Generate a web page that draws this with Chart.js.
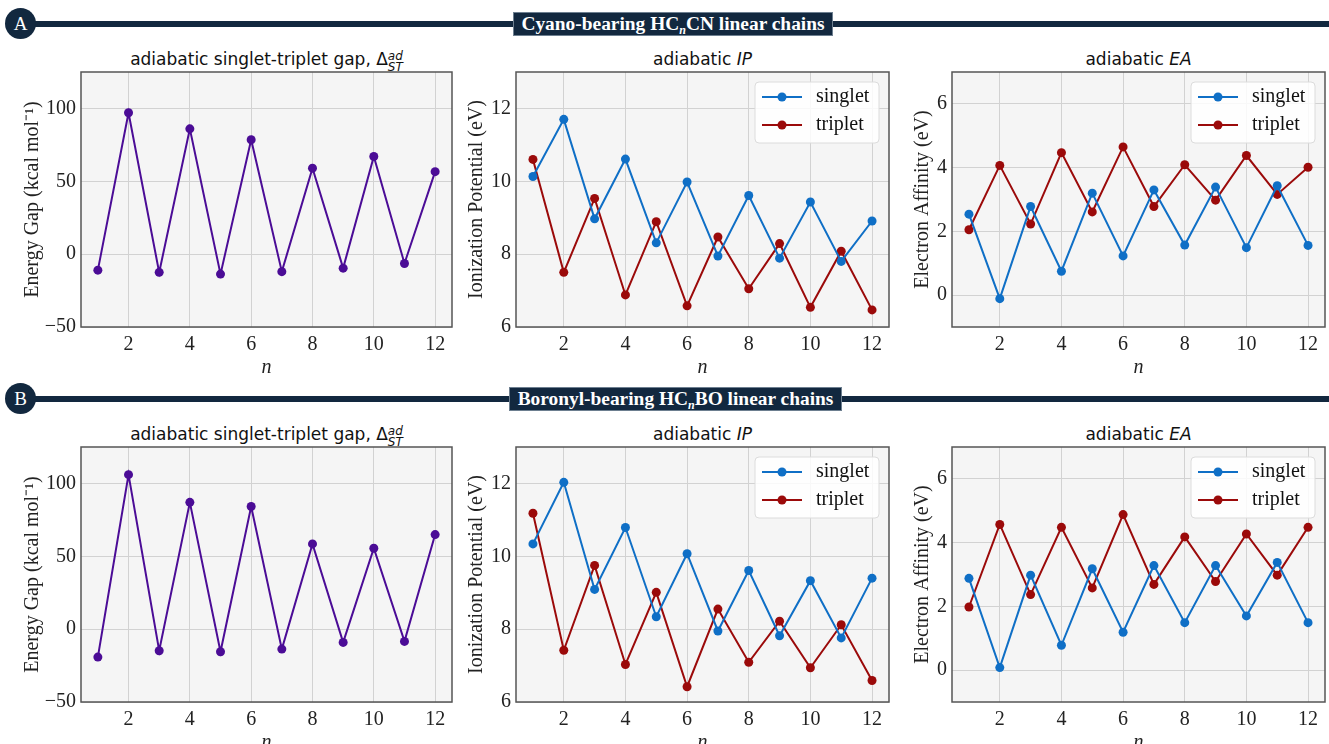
<!DOCTYPE html>
<html>
<head>
<meta charset="utf-8">
<script src="https://cdn.jsdelivr.net/npm/chart.js@4.4.1/dist/chart.umd.min.js"></script>
<style>
  body { margin: 0; background: #fff; width: 1329px; height: 744px; overflow: hidden; position: relative; }
  .line { position: absolute; left: 20px; width: 1309px; height: 6px; background: #12283f; }
  .circ { position: absolute; left: 5px; width: 31px; height: 31px; border-radius: 50%; background: #12283f;
          color: #fff; font-family: "Liberation Serif", serif; font-size: 19px; line-height: 31px; text-align: center; }
  .box { position: absolute; height: 24px; background: #12283f; border: 1px solid #6d7f90; box-sizing: border-box;
         color: #fff; font-family: "Liberation Serif", serif; font-weight: bold; font-size: 19.4px; line-height: 22px;
         text-align: center; white-space: nowrap; }
  .box i { font-weight: bold; font-size: 12px; position: relative; top: 4px; }
  .ptitle { position: absolute; font-family: "DejaVu Sans", sans-serif; font-size: 17px; color: #111;
            text-align: center; white-space: nowrap; }
  .ptitle i { font-style: italic; }
  .ss { display: inline-block; vertical-align: -6px; line-height: 11px; font-size: 12px; font-style: italic; text-align: left; }
  .panel { position: absolute; }
</style>
</head>
<body>

<div class="line" style="top:21px"></div>
<div class="circ" style="top:8px">A</div>
<div class="box" style="left:513px; top:12px; width:320px">Cyano-bearing HC<i>n</i>CN linear chains</div>

<div class="line" style="top:396px"></div>
<div class="circ" style="top:383px">B</div>
<div class="box" style="left:509px; top:387px; width:333px">Boronyl-bearing HC<i>n</i>BO linear chains</div>

<div class="ptitle" style="left:81px; width:371px; top:49px">adiabatic singlet-triplet gap, &Delta;<span class="ss">ad<br>ST</span></div>
<div class="ptitle" style="left:516px; width:373px; top:49px">adiabatic <i>IP</i></div>
<div class="ptitle" style="left:952px; width:373px; top:49px">adiabatic <i>EA</i></div>

<div class="ptitle" style="left:81px; width:371px; top:424px">adiabatic singlet-triplet gap, &Delta;<span class="ss">ad<br>ST</span></div>
<div class="ptitle" style="left:516px; width:373px; top:424px">adiabatic <i>IP</i></div>
<div class="ptitle" style="left:952px; width:373px; top:424px">adiabatic <i>EA</i></div>

<canvas id="cyanoGap" class="panel"></canvas>
<canvas id="cyanoIp" class="panel"></canvas>
<canvas id="cyanoEa" class="panel"></canvas>
<canvas id="boronylGap" class="panel"></canvas>
<canvas id="boronylIp" class="panel"></canvas>
<canvas id="boronylEa" class="panel"></canvas>

<script>
// data
const nValues = [1, 2, 3, 4, 5, 6, 7, 8, 9, 10, 11, 12];
const xTicks = [2, 4, 6, 8, 10, 12];
const gapTicks = [-50, 0, 50, 100];
const ipTicks = [6, 8, 10, 12];
const eaTicks = [0, 2, 4, 6];

const cyanoGap = [-11, 97, -12.5, 86, -13.7, 78.5, -12, 59, -9.6, 67, -6.4, 56.6];
const cyanoIpSinglet = [10.13, 11.70, 8.97, 10.61, 8.31, 9.98, 7.95, 9.61, 7.89, 9.43, 7.80, 8.91];
const cyanoIpTriplet = [10.60, 7.50, 9.53, 6.88, 8.89, 6.58, 8.47, 7.05, 8.29, 6.54, 8.08, 6.47];
const cyanoEaSinglet = [2.54, -0.11, 2.78, 0.75, 3.20, 1.23, 3.30, 1.57, 3.39, 1.49, 3.43, 1.56];
const cyanoEaTriplet = [2.05, 4.07, 2.23, 4.47, 2.61, 4.65, 2.78, 4.09, 2.98, 4.38, 3.16, 4.01];

const boronylGap = [-19.2, 106, -14.8, 87, -15.5, 84.2, -13.7, 58.5, -9.1, 55.5, -8.4, 64.9];
const boronylIpSinglet = [10.34, 12.03, 9.09, 10.79, 8.34, 10.07, 7.95, 9.61, 7.82, 9.33, 7.76, 9.40];
const boronylIpTriplet = [11.18, 7.42, 9.75, 7.03, 9.01, 6.42, 8.55, 7.09, 8.22, 6.94, 8.12, 6.59];
const boronylEaSinglet = [2.88, 0.08, 2.98, 0.78, 3.18, 1.19, 3.28, 1.49, 3.28, 1.70, 3.38, 1.49];
const boronylEaTriplet = [1.98, 4.57, 2.37, 4.48, 2.58, 4.88, 2.69, 4.18, 2.78, 4.27, 2.98, 4.48];

const purple = "#4b0c96";
const blue = "#0f6fc6";
const red = "#9b0a0a";
const serif = "'Liberation Serif', serif";

// plot background + frame
const axesBox = {
  id: "axesBox",
  beforeDraw(chart) {
    const { ctx, chartArea: a } = chart;
    ctx.save();
    ctx.fillStyle = "#f5f5f5";
    ctx.fillRect(a.left, a.top, a.width, a.height);
    ctx.restore();
  },
  afterDatasetsDraw(chart) {
    const { ctx, chartArea: a } = chart;
    ctx.save();
    ctx.strokeStyle = "#555";
    ctx.lineWidth = 1.5;
    ctx.strokeRect(a.left, a.top, a.width, a.height);
    ctx.restore();
  },
};

// legend drawn inside the axes, upper right
const innerLegend = {
  id: "innerLegend",
  afterDraw(chart, args, opts) {
    if (!opts.show) return;
    const { ctx, chartArea: a } = chart;
    const w = 124, h = 61;
    const x = a.right - 10 - w;
    const y = a.top + 10;
    ctx.save();
    ctx.beginPath();
    ctx.roundRect(x, y, w, h, 4);
    ctx.fillStyle = "rgba(255,255,255,0.85)";
    ctx.fill();
    ctx.strokeStyle = "#dcdcdc";
    ctx.lineWidth = 1;
    ctx.stroke();
    chart.data.datasets.forEach((ds, i) => {
      const cy = y + 15 + i * 28;
      ctx.strokeStyle = ds.borderColor;
      ctx.lineWidth = 2;
      ctx.beginPath();
      ctx.moveTo(x + 7, cy);
      ctx.lineTo(x + 47, cy);
      ctx.stroke();
      ctx.fillStyle = ds.borderColor;
      ctx.beginPath();
      ctx.arc(x + 27, cy, 4.5, 0, Math.PI * 2);
      ctx.fill();
      ctx.fillStyle = "#111";
      ctx.font = "20px " + serif;
      ctx.textBaseline = "middle";
      ctx.fillText(ds.label, x + 61, cy);
    });
    ctx.restore();
  },
};

function series(label, values, color) {
  return {
    label: label,
    data: nValues.map((n, i) => ({ x: n, y: values[i] })),
    borderColor: color,
    backgroundColor: color,
    borderWidth: 2,
    pointRadius: 4.5,
    pointHoverRadius: 4.5,
    pointBorderWidth: 0,
    tension: 0,
  };
}

// top label overflow that chart.js keeps free above the plot
const topGap = 17;
const xAxisH = 53;

function makeChart(id, box, datasets, yTitle, yMin, yMax, yTicks, titlePad, legend) {
  const canvas = document.getElementById(id);
  canvas.width = box.w;
  canvas.height = box.h;
  canvas.style.left = box.x + "px";
  canvas.style.top = box.y + "px";

  return new Chart(canvas, {
    type: "line",
    data: { datasets: datasets },
    options: {
      responsive: false,
      animation: false,
      events: [],
      layout: { padding: { top: 0, right: 8, left: 0, bottom: 0 } },
      plugins: {
        legend: { display: false },
        tooltip: { enabled: false },
        innerLegend: { show: legend },
      },
      scales: {
        x: {
          type: "linear",
          min: 0.45,
          max: 12.55,
          afterBuildTicks: (s) => { s.ticks = xTicks.map((v) => ({ value: v })); },
          afterFit: (s) => { s.height = xAxisH; },
          grid: { color: "#d2d2d2", lineWidth: 1, drawTicks: false },
          border: { display: false },
          ticks: { color: "#222", padding: 6, font: { family: serif, size: 20 } },
          title: { display: true, text: "n", color: "#222", padding: 0,
                   font: { family: serif, size: 20, style: "italic" } },
        },
        y: {
          min: yMin,
          max: yMax,
          afterBuildTicks: (s) => { s.ticks = yTicks.map((v) => ({ value: v })); },
          afterFit: (s) => { s.width = 80; },
          grid: { color: "#d2d2d2", lineWidth: 1, drawTicks: false },
          border: { display: false },
          ticks: { color: "#222", padding: 5, font: { family: serif, size: 20 },
                   callback: (v) => (v < 0 ? "\u2212" + Math.abs(v) : v) },
          title: { display: true, text: yTitle, color: "#222", padding: { top: titlePad, bottom: 0 },
                   font: { family: serif, size: 20 } },
        },
      },
    },
    plugins: [axesBox, innerLegend],
  });
}

const colX = [1, 436, 872];
const colW = [459, 461, 461];
const plotTop = [72, 447];
const plotH = 255;
const panelH = topGap + plotH + xAxisH;

const gapTitle = "Energy Gap (kcal mol\u207B\u00B9)";
const ipTitle = "Ionization Potential (eV)";
const eaTitle = "Electron Affinity (eV)";

const rowY = plotTop.map((t) => t - topGap);

makeChart("cyanoGap", { x: colX[0], y: rowY[0], w: colW[0], h: panelH },
  [series("gap", cyanoGap, purple)], gapTitle, -50, 125, gapTicks, 20, false);
makeChart("cyanoIp", { x: colX[1], y: rowY[0], w: colW[1], h: panelH },
  [series("singlet", cyanoIpSinglet, blue), series("triplet", cyanoIpTriplet, red)],
  ipTitle, 6, 13, ipTicks, 29, true);
makeChart("cyanoEa", { x: colX[2], y: rowY[0], w: colW[2], h: panelH },
  [series("singlet", cyanoEaSinglet, blue), series("triplet", cyanoEaTriplet, red)],
  eaTitle, -1, 7, eaTicks, 39, true);

makeChart("boronylGap", { x: colX[0], y: rowY[1], w: colW[0], h: panelH },
  [series("gap", boronylGap, purple)], gapTitle, -50, 125, gapTicks, 20, false);
makeChart("boronylIp", { x: colX[1], y: rowY[1], w: colW[1], h: panelH },
  [series("singlet", boronylIpSinglet, blue), series("triplet", boronylIpTriplet, red)],
  ipTitle, 6, 13, ipTicks, 29, true);
makeChart("boronylEa", { x: colX[2], y: rowY[1], w: colW[2], h: panelH },
  [series("singlet", boronylEaSinglet, blue), series("triplet", boronylEaTriplet, red)],
  eaTitle, -1, 7, eaTicks, 39, true);
</script>
</body>
</html>
